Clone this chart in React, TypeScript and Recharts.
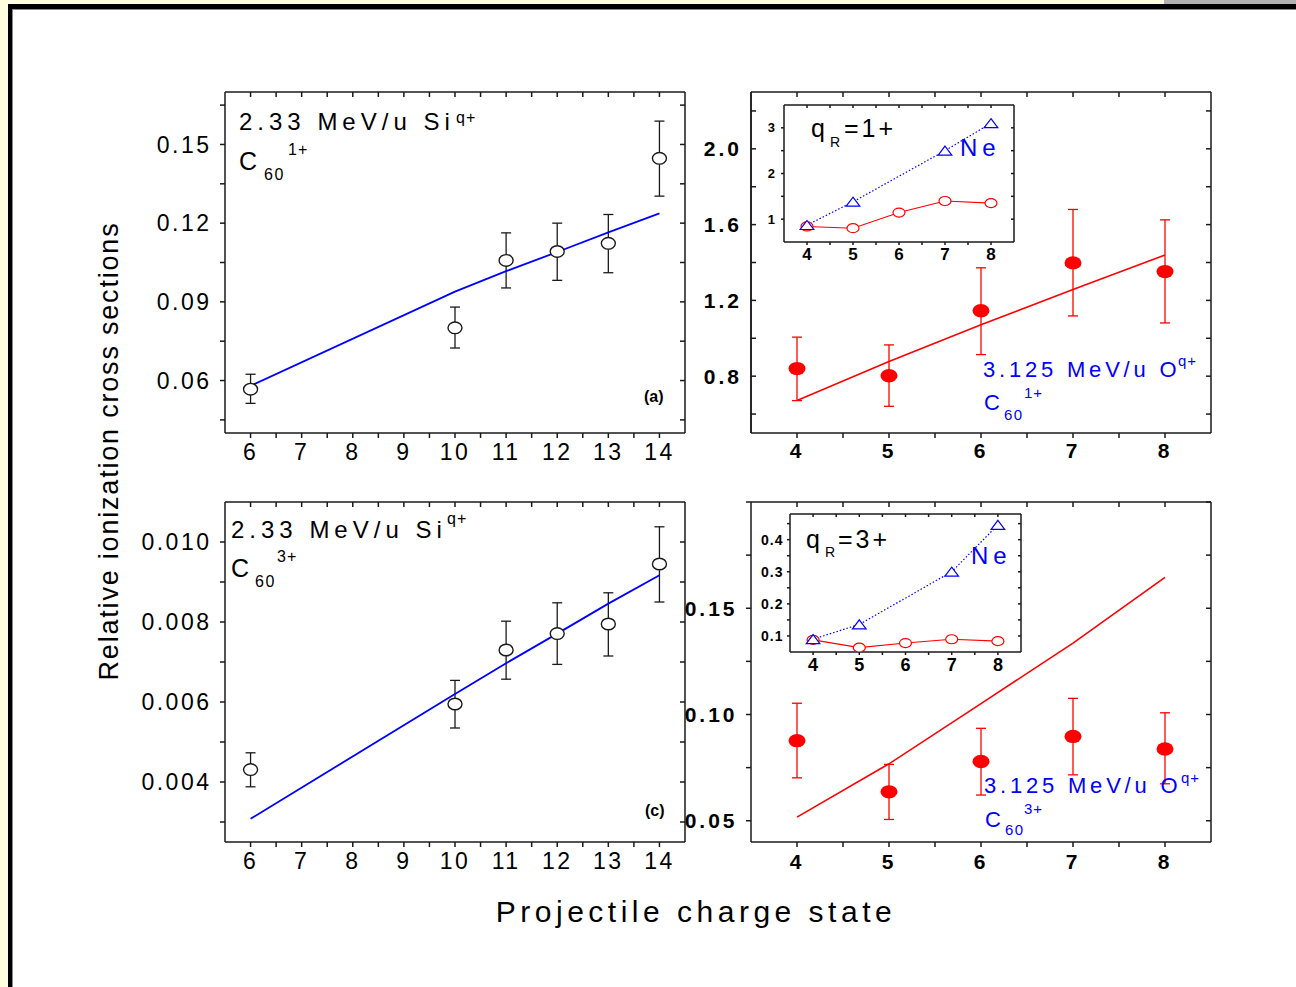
import React from 'react';
import { ComposedChart, XAxis, YAxis, Line, Scatter, ErrorBar } from 'recharts';

const FONT = '"Liberation Sans", Arial, Helvetica, sans-serif';
const BLUE = '#0000ff';
const RED = '#ff0000';
const INK = '#1a1a1a';

// 2.33 MeV/u Si(q+) on C60 -> panels (a) and (c)
const qSi = [6, 10, 11, 12, 13, 14];
const siC1 = [0.0567, 0.0801, 0.1058, 0.1092, 0.1123, 0.1447];
const siC1Lo = [0.0513, 0.0724, 0.0953, 0.0982, 0.1011, 0.1303];
const siC1Hi = [0.0624, 0.088, 0.1163, 0.12, 0.1233, 0.1589];
const siC1Fit = [0.058, 0.0939, 0.1017, 0.109, 0.1165, 0.1237];

const siC3 = [0.00431, 0.00595, 0.0073, 0.00771, 0.00795, 0.00945];
const siC3Lo = [0.00388, 0.00535, 0.00657, 0.00694, 0.00715, 0.0085];
const siC3Hi = [0.00473, 0.00654, 0.00802, 0.00848, 0.00873, 0.01038];
const siC3Fit = [0.00308, 0.0062, 0.00697, 0.00771, 0.00846, 0.00917];

// 3.125 MeV/u O(q+) on C60 -> panels (b) and (d)
const qO = [4, 5, 6, 7, 8];
const oC1 = [0.84, 0.802, 1.145, 1.398, 1.352];
const oC1Lo = [0.671, 0.641, 0.914, 1.118, 1.081];
const oC1Hi = [1.006, 0.965, 1.372, 1.68, 1.625];
const oC1Fit = [0.671, 0.877, 1.071, 1.257, 1.439];

const oC3 = [0.0877, 0.0636, 0.0779, 0.0897, 0.0838];
const oC3Lo = [0.0702, 0.0506, 0.0621, 0.0716, 0.0674];
const oC3Hi = [0.1053, 0.0765, 0.0935, 0.1076, 0.1008];
const oC3Fit = [0.0517, 0.0768, 0.1051, 0.1336, 0.1645];

// insets: Ne target (no point at q=6)
const neC1 = [0.87, 1.38, null, 2.5, 3.1];
const neC3 = [0.09, 0.136, null, 0.3, 0.446];

// axes: tick values and their labels ('' = minor tick)
type Ax = { domain: [number, number]; ticks: number[]; labels: string[] };
const xSi: Ax = {
  domain: [5.5, 14.5],
  ticks: [6, 6.5, 7, 7.5, 8, 8.5, 9, 9.5, 10, 10.5, 11, 11.5, 12, 12.5, 13, 13.5, 14],
  labels: ['6', '', '7', '', '8', '', '9', '', '10', '', '11', '', '12', '', '13', '', '14'],
};
const xO: Ax = {
  domain: [3.5, 8.5],
  ticks: [4, 4.5, 5, 5.5, 6, 6.5, 7, 7.5, 8],
  labels: ['4', '', '5', '', '6', '', '7', '', '8'],
};
const yA: Ax = {
  domain: [0.04, 0.17],
  ticks: [0.045, 0.06, 0.075, 0.09, 0.105, 0.12, 0.135, 0.15, 0.165],
  labels: ['', '0.06', '', '0.09', '', '0.12', '', '0.15', ''],
};
const yB: Ax = {
  domain: [0.5, 2.3],
  ticks: [0.6, 0.8, 1.0, 1.2, 1.4, 1.6, 1.8, 2.0, 2.2],
  labels: ['', '0.8', '', '1.2', '', '1.6', '', '2.0', ''],
};
const yC: Ax = {
  domain: [0.0025, 0.011],
  ticks: [0.003, 0.004, 0.005, 0.006, 0.007, 0.008, 0.009, 0.01],
  labels: ['', '0.004', '', '0.006', '', '0.008', '', '0.010'],
};
const yD: Ax = {
  domain: [0.04, 0.2],
  ticks: [0.05, 0.075, 0.1, 0.125, 0.15, 0.175, 0.2],
  labels: ['0.05', '', '0.10', '', '0.15', '', ''],
};
const yInB: Ax = {
  domain: [0.5, 3.5],
  ticks: [1, 1.5, 2, 2.5, 3],
  labels: ['1', '', '2', '', '3'],
};
const yInD: Ax = {
  domain: [0.05, 0.48],
  ticks: [0.1, 0.15, 0.2, 0.25, 0.3, 0.35, 0.4, 0.45],
  labels: ['0.1', '', '0.2', '', '0.3', '', '0.4', ''],
};

const fmt = (ax: Ax) => (v: number) => {
  const i = ax.ticks.findIndex((t) => Math.abs(t - v) < 1e-9);
  return i < 0 ? '' : ax.labels[i];
};
const blank = () => '';

const rows = (q: number[], v: number[], lo: number[], hi: number[], fit: number[]) =>
  q.map((x, i) => ({ q: x, v: v[i], err: [v[i] - lo[i], hi[i] - v[i]], fit: fit[i] }));
const insetRows = (q: number[], red: number[], blue: (number | null)[]) =>
  q.map((x, i) => ({ q: x, red: red[i], blue: blue[i] }));

const dataA = rows(qSi, siC1, siC1Lo, siC1Hi, siC1Fit);
const dataC = rows(qSi, siC3, siC3Lo, siC3Hi, siC3Fit);
const dataB = rows(qO, oC1, oC1Lo, oC1Hi, oC1Fit);
const dataD = rows(qO, oC3, oC3Lo, oC3Hi, oC3Fit);
const dataInB = insetRows(qO, oC1, neC1);
const dataInD = insetRows(qO, oC3, neC3);

type Box = { x: number; y: number; w: number; h: number };

function Panel(props: {
  box: Box; x: Ax; y: Ax; data: any[]; tickX: any; tickY: any; len: number;
  mx: number; my: number; leftIn?: boolean; pad?: [number, number, number, number];
  children?: React.ReactNode;
}) {
  const { box, x, y, len } = props;
  const [T, R, B, L] = props.pad || [10, 10, 50, 110];
  const ln = { stroke: INK, strokeWidth: 1.5 };
  return (
    <div style={{ position: 'absolute', left: box.x - L, top: box.y - T }}>
      <ComposedChart width={L + box.w + R} height={T + box.h + B} data={props.data}
        margin={{ top: T, right: R, bottom: 0, left: 0 }}>
        <XAxis xAxisId="b" type="number" dataKey="q" domain={x.domain} ticks={x.ticks} interval={0}
          allowDataOverflow height={B} tickSize={len} tickMargin={props.mx} tickFormatter={fmt(x)}
          tick={props.tickX} axisLine={ln} tickLine={ln} />
        <XAxis xAxisId="t" orientation="top" mirror type="number" dataKey="q" domain={x.domain}
          ticks={x.ticks} interval={0} allowDataOverflow tickSize={len} tickFormatter={blank}
          axisLine={ln} tickLine={ln} />
        <YAxis yAxisId="l" type="number" domain={y.domain} ticks={y.ticks} interval={0} allowDataOverflow
          width={L} tickSize={props.leftIn ? 0 : len} tickLine={props.leftIn ? false : ln}
          tickMargin={props.my} tickFormatter={fmt(y)} tick={props.tickY} axisLine={ln} />
        {props.leftIn && (
          <YAxis yAxisId="l2" mirror type="number" domain={y.domain} ticks={y.ticks} interval={0}
            allowDataOverflow tickSize={len} tickFormatter={blank} axisLine={ln} tickLine={ln} />
        )}
        <YAxis yAxisId="r" orientation="right" mirror type="number" domain={y.domain} ticks={y.ticks}
          interval={0} allowDataOverflow tickSize={len} tickFormatter={blank} axisLine={ln} tickLine={ln} />
        {props.children}
      </ComposedChart>
    </div>
  );
}

const openOval = (p: any) => (
  <ellipse cx={p.cx} cy={p.cy} rx={7} ry={5.8} fill="#fff" stroke={INK} strokeWidth={1.4} />
);
const redOval = (p: any) => <ellipse cx={p.cx} cy={p.cy} rx={8.5} ry={6.7} fill={RED} />;
const smallOval = (p: any) =>
  p.cy == null ? <g key={`c${p.index}`} /> : (
    <ellipse key={`c${p.index}`} cx={p.cx} cy={p.cy} rx={6} ry={4.5} fill="#fff" stroke={RED} strokeWidth={1.2} />
  );
const triangle = (p: any) =>
  p.cy == null ? <g key={`t${p.index}`} /> : (
    <path key={`t${p.index}`}
      d={`M${p.cx},${p.cy - 4.6} L${p.cx + 6.8},${p.cy + 4.4} L${p.cx - 6.8},${p.cy + 4.4} Z`}
      fill="#fff" stroke={BLUE} strokeWidth={1.2} />
  );

const tickSi = { fontSize: 23, fill: '#000', letterSpacing: 2.5, fontFamily: FONT };
const tickO = { fontSize: 21, fontWeight: 700, fill: '#000', letterSpacing: 3, fontFamily: FONT };

function Txt(p: { x: number; y: number; s: number; c?: string; b?: boolean; ls?: number; children: string }) {
  return (
    <text x={p.x} y={p.y} fontSize={p.s} fill={p.c || '#000'} fontWeight={p.b ? 700 : 400}
      letterSpacing={p.ls || 0} fontFamily={FONT}>
      {p.children}
    </text>
  );
}

export default function App() {
  return (
    <div style={{ position: 'fixed', left: 0, top: 0, width: 1296, height: 987, background: '#FFFFE0', overflow: 'hidden', fontFamily: FONT }}>
      <div style={{ position: 'absolute', left: 1164, top: 0, width: 132, height: 4, background: '#B2B2B2' }} />
      <div style={{ position: 'absolute', left: 8, top: 4, width: 1300, height: 1000, background: '#fff', borderLeft: '4px solid #000', borderTop: '5px solid #000', boxShadow: 'inset 1px 1px 0 #888' }} />

      {/* (a) */}
      <Panel box={{ x: 225, y: 92, w: 460, h: 341 }} x={xSi} y={yA} data={dataA} tickX={tickSi} tickY={tickSi}
        len={5} mx={6} my={8.5}>
        <Scatter xAxisId="b" yAxisId="l" dataKey="v" shape={openOval} isAnimationActive={false}>
          <ErrorBar dataKey="err" direction="y" width={5} stroke={INK} strokeWidth={1.3} isAnimationActive={false} />
        </Scatter>
        <Line xAxisId="b" yAxisId="l" type="linear" dataKey="fit" stroke={BLUE} strokeWidth={1.8} dot={false} isAnimationActive={false} />
      </Panel>

      {/* (c) */}
      <Panel box={{ x: 225, y: 502, w: 460, h: 340 }} x={xSi} y={yC} data={dataC} tickX={tickSi} tickY={tickSi}
        len={5} mx={6} my={8.5}>
        <Scatter xAxisId="b" yAxisId="l" dataKey="v" shape={openOval} isAnimationActive={false}>
          <ErrorBar dataKey="err" direction="y" width={5} stroke={INK} strokeWidth={1.3} isAnimationActive={false} />
        </Scatter>
        <Line xAxisId="b" yAxisId="l" type="linear" dataKey="fit" stroke={BLUE} strokeWidth={1.8} dot={false} isAnimationActive={false} />
      </Panel>

      {/* (b) */}
      <Panel box={{ x: 751, y: 92, w: 460, h: 341 }} x={xO} y={yB} data={dataB} tickX={tickO} tickY={tickO}
        len={5} mx={5} my={9} leftIn>
        <Scatter xAxisId="b" yAxisId="l" dataKey="v" shape={redOval} isAnimationActive={false}>
          <ErrorBar dataKey="err" direction="y" width={5} stroke={RED} strokeWidth={1.3} isAnimationActive={false} />
        </Scatter>
        <Line xAxisId="b" yAxisId="l" type="linear" dataKey="fit" stroke={RED} strokeWidth={1.6} dot={false} isAnimationActive={false} />
      </Panel>

      {/* (d) */}
      <Panel box={{ x: 751, y: 502, w: 460, h: 340 }} x={xO} y={yD} data={dataD} tickX={tickO} tickY={tickO}
        len={5} mx={7} my={8.5}>
        <Scatter xAxisId="b" yAxisId="l" dataKey="v" shape={redOval} isAnimationActive={false}>
          <ErrorBar dataKey="err" direction="y" width={5} stroke={RED} strokeWidth={1.3} isAnimationActive={false} />
        </Scatter>
        <Line xAxisId="b" yAxisId="l" type="linear" dataKey="fit" stroke={RED} strokeWidth={1.6} dot={false} isAnimationActive={false} />
      </Panel>

      {/* inset of (b) */}
      <Panel box={{ x: 784, y: 105, w: 230, h: 137 }} x={xO} y={yInB} data={dataInB}
        tickX={{ fontSize: 17, fontWeight: 700, fill: '#000', fontFamily: FONT }}
        tickY={{ fontSize: 13, fontWeight: 700, fill: '#000', fontFamily: FONT }}
        len={3} mx={3} my={6} pad={[6, 6, 30, 40]}>
        <Line xAxisId="b" yAxisId="l" type="linear" dataKey="red" stroke={RED} strokeWidth={1.1} dot={smallOval} isAnimationActive={false} />
        <Line xAxisId="b" yAxisId="l" type="linear" dataKey="blue" stroke={BLUE} strokeWidth={1.2} strokeDasharray="1.5 2"
          connectNulls dot={triangle} isAnimationActive={false} />
      </Panel>

      {/* inset of (d) */}
      <Panel box={{ x: 790, y: 514, w: 231, h: 138 }} x={xO} y={yInD} data={dataInD}
        tickX={{ fontSize: 18, fontWeight: 700, fill: '#000', fontFamily: FONT }}
        tickY={{ fontSize: 14, fontWeight: 700, fill: '#000', letterSpacing: 1, fontFamily: FONT }}
        len={3} mx={3} my={3.5} pad={[6, 6, 30, 45]}>
        <Line xAxisId="b" yAxisId="l" type="linear" dataKey="red" stroke={RED} strokeWidth={1.1} dot={smallOval} isAnimationActive={false} />
        <Line xAxisId="b" yAxisId="l" type="linear" dataKey="blue" stroke={BLUE} strokeWidth={1.2} strokeDasharray="1.5 2"
          connectNulls dot={triangle} isAnimationActive={false} />
      </Panel>

      <svg width={1296} height={987} style={{ position: 'absolute', left: 0, top: 0, pointerEvents: 'none' }}>
        {/* (a) */}
        <Txt x={239} y={130} s={24} ls={5}>2.33 MeV/u Si</Txt>
        <Txt x={456} y={123} s={16} ls={1}>q+</Txt>
        <Txt x={239} y={170} s={25}>C</Txt>
        <Txt x={264} y={180} s={16} ls={1.5}>60</Txt>
        <Txt x={288} y={155} s={16} ls={1}>1+</Txt>
        <Txt x={644} y={402} s={16} b>(a)</Txt>
        {/* (c) */}
        <Txt x={231} y={538} s={24} ls={5}>2.33 MeV/u Si</Txt>
        <Txt x={447} y={524} s={16} ls={1}>q+</Txt>
        <Txt x={231} y={577} s={25}>C</Txt>
        <Txt x={255} y={587} s={16} ls={1.5}>60</Txt>
        <Txt x={277} y={562} s={16} ls={1}>3+</Txt>
        <Txt x={645} y={816} s={16} b>(c)</Txt>
        {/* (b) */}
        <Txt x={983} y={377} s={22} ls={3.8} c={BLUE}>3.125 MeV/u O</Txt>
        <Txt x={1178} y={366} s={15} ls={1} c={BLUE}>q+</Txt>
        <Txt x={984} y={410} s={22} c={BLUE}>C</Txt>
        <Txt x={1004} y={420} s={15} ls={1.5} c={BLUE}>60</Txt>
        <Txt x={1024} y={398} s={15} ls={1} c={BLUE}>1+</Txt>
        {/* (d) */}
        <Txt x={984} y={793} s={22} ls={3.8} c={BLUE}>3.125 MeV/u O</Txt>
        <Txt x={1181} y={783} s={15} ls={1} c={BLUE}>q+</Txt>
        <Txt x={985} y={827} s={22} c={BLUE}>C</Txt>
        <Txt x={1005} y={835} s={15} ls={1.5} c={BLUE}>60</Txt>
        <Txt x={1024} y={814} s={15} ls={1} c={BLUE}>3+</Txt>
        {/* insets */}
        <Txt x={811} y={137} s={25}>q</Txt>
        <Txt x={830} y={147} s={14}>R</Txt>
        <Txt x={844} y={137} s={25} ls={3}>=1+</Txt>
        <Txt x={960} y={156} s={24} ls={5} c={BLUE}>Ne</Txt>
        <Txt x={806} y={548} s={25}>q</Txt>
        <Txt x={825} y={557} s={14}>R</Txt>
        <Txt x={838} y={548} s={25} ls={3}>=3+</Txt>
        <Txt x={971} y={564} s={24} ls={5} c={BLUE}>Ne</Txt>
        {/* shared axis titles */}
        <text x={118} y={451} fontSize={27} letterSpacing={1.8} textAnchor="middle" fontFamily={FONT}
          transform="rotate(-90 118 451)">Relative ionization cross sections</text>
        <text x={696} y={922} fontSize={30} letterSpacing={4.5} textAnchor="middle" fontFamily={FONT}>
          Projectile charge state
        </text>
      </svg>
    </div>
  );
}
